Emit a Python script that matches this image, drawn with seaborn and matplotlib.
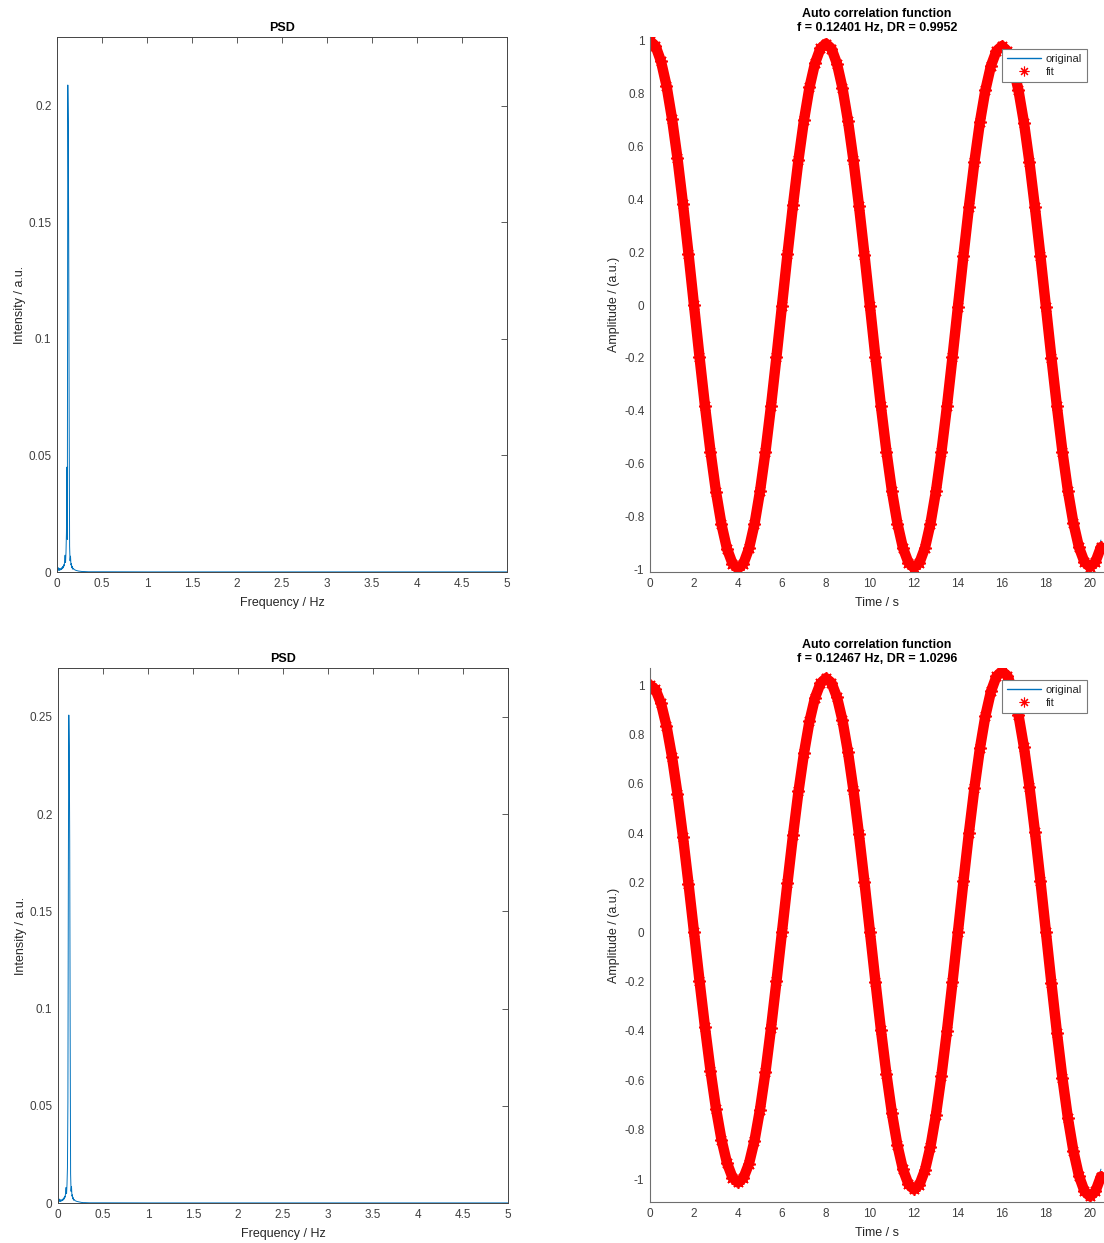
import matplotlib
matplotlib.use("Agg")
import matplotlib.pyplot as plt
from matplotlib.lines import Line2D
import seaborn as sns

# ---- PSD data (frequency in Hz, intensity in a.u.) ----
psd_freq = [0.000, 0.005, 0.010, 0.015, 0.020, 0.025, 0.030, 0.035, 0.040, 0.045,
            0.050, 0.055, 0.060, 0.065, 0.070, 0.075, 0.080, 0.085, 0.090, 0.095,
            0.100, 0.105, 0.110, 0.115, 0.120, 0.125, 0.130, 0.135, 0.140, 0.145,
            0.150, 0.155, 0.160, 0.165, 0.170, 0.175, 0.180, 0.190, 0.200, 0.210,
            0.220, 0.240, 0.260, 0.280, 0.300, 0.350, 0.400, 0.500, 1.0, 2.0,
            3.0, 4.0, 5.0]
psd_top = [0.0004, 0.0016, 0.0006, 0.0018, 0.0009, 0.0015, 0.0007, 0.0012, 0.0010, 0.0016,
           0.0011, 0.0019, 0.0014, 0.0024, 0.0018, 0.0031, 0.0026, 0.0049, 0.0072, 0.0041,
           0.0085, 0.0170, 0.0450, 0.0140, 0.2090, 0.1930, 0.1420, 0.0690, 0.0110, 0.0048,
           0.0068, 0.0030, 0.0036, 0.0018, 0.0024, 0.0012, 0.0016, 0.0011, 0.0009, 0.0007,
           0.0006, 0.0004, 0.0003, 0.0002, 0.0002, 0.0001, 0.0001, 0.0001, 0.00005, 0.00005,
           0.00005, 0.00005, 0.00005]
psd_bottom = [0.0005, 0.0018, 0.0007, 0.0020, 0.0010, 0.0017, 0.0008, 0.0014, 0.0011, 0.0018,
              0.0012, 0.0021, 0.0016, 0.0027, 0.0021, 0.0035, 0.0030, 0.0058, 0.0080, 0.0048,
              0.0095, 0.0180, 0.0520, 0.1660, 0.2510, 0.2350, 0.1860, 0.0915, 0.0150, 0.0060,
              0.0085, 0.0035, 0.0042, 0.0021, 0.0027, 0.0014, 0.0018, 0.0012, 0.0010, 0.0008,
              0.0007, 0.0005, 0.0003, 0.0002, 0.0002, 0.0001, 0.0001, 0.0001, 0.00005, 0.00005,
              0.00005, 0.00005, 0.00005]

# ---- auto correlation data (lag in s) ----
lag_s = [0.0, 0.25, 0.5, 0.75, 1.0, 1.25, 1.5, 1.75, 2.0, 2.25, 2.5, 2.75, 3.0, 3.25,
         3.5, 3.75, 4.0, 4.25, 4.5, 4.75, 5.0, 5.25, 5.5, 5.75, 6.0, 6.25, 6.5, 6.75,
         7.0, 7.25, 7.5, 7.75, 8.0, 8.25, 8.5, 8.75, 9.0, 9.25, 9.5, 9.75, 10.0, 10.25,
         10.5, 10.75, 11.0, 11.25, 11.5, 11.75, 12.0, 12.25, 12.5, 12.75, 13.0, 13.25,
         13.5, 13.75, 14.0, 14.25, 14.5, 14.75, 15.0, 15.25, 15.5, 15.75, 16.0, 16.25,
         16.5, 16.75, 17.0, 17.25, 17.5, 17.75, 18.0, 18.25, 18.5, 18.75, 19.0, 19.25,
         19.5, 19.75, 20.0, 20.25, 20.5]

fit_top = [1.000, 0.981, 0.923, 0.831, 0.706, 0.555, 0.382, 0.194, -0.001, -0.196,
           -0.383, -0.555, -0.707, -0.831, -0.923, -0.979, -0.998, -0.979, -0.922, -0.830,
           -0.706, -0.555, -0.383, -0.196, -0.002, 0.192, 0.378, 0.550, 0.700, 0.824,
           0.915, 0.972, 0.990, 0.971, 0.914, 0.822, 0.698, 0.548, 0.376, 0.190,
           -0.004, -0.198, -0.384, -0.555, -0.705, -0.828, -0.920, -0.976, -0.995, -0.976,
           -0.920, -0.828, -0.705, -0.555, -0.384, -0.198, -0.006, 0.187, 0.372, 0.543,
           0.693, 0.815, 0.906, 0.962, 0.981, 0.962, 0.905, 0.814, 0.691, 0.541,
           0.370, 0.185, -0.007, -0.200, -0.384, -0.555, -0.704, -0.826, -0.917, -0.973,
           -0.992, -0.973, -0.917]
orig_top = [1.000, 0.981, 0.923, 0.831, 0.706, 0.555, 0.382, 0.194, -0.001, -0.196,
            -0.383, -0.555, -0.707, -0.831, -0.923, -0.979, -0.998, -0.979, -0.922, -0.830,
            -0.706, -0.555, -0.383, -0.196, -0.002, 0.192, 0.378, 0.550, 0.700, 0.824,
            0.915, 0.972, 0.990, 0.971, 0.914, 0.822, 0.698, 0.548, 0.376, 0.190,
            -0.004, -0.198, -0.384, -0.555, -0.705, -0.828, -0.920, -0.976, -0.995, -0.976,
            -0.920, -0.828, -0.705, -0.555, -0.384, -0.198, -0.006, 0.187, 0.372, 0.543,
            0.693, 0.815, 0.906, 0.962, 0.981, 0.962, 0.905, 0.814, 0.691, 0.541,
            0.370, 0.185, -0.007, -0.200, -0.384, -0.555, -0.704, -0.826, -0.917, -0.973,
            -0.992, -0.970, -0.890]

fit_bottom = [1.000, 0.982, 0.926, 0.834, 0.710, 0.558, 0.385, 0.196, 0.000, -0.197,
              -0.386, -0.561, -0.715, -0.841, -0.935, -0.994, -1.014, -0.995, -0.938, -0.845,
              -0.719, -0.566, -0.390, -0.199, 0.000, 0.199, 0.391, 0.569, 0.724, 0.853,
              0.948, 1.007, 1.028, 1.009, 0.951, 0.857, 0.729, 0.574, 0.395, 0.202,
              0.000, -0.202, -0.397, -0.576, -0.734, -0.864, -0.961, -1.021, -1.042, -1.023,
              -0.964, -0.869, -0.739, -0.581, -0.401, -0.204, 0.000, 0.205, 0.402, 0.584,
              0.744, 0.876, 0.974, 1.035, 1.056, 1.037, 0.977, 0.880, 0.749, 0.589,
              0.406, 0.207, 0.000, -0.208, -0.407, -0.592, -0.754, -0.887, -0.987, -1.049,
              -1.070, -1.050, -0.990]
orig_bottom = [1.000, 0.982, 0.926, 0.834, 0.710, 0.558, 0.385, 0.196, 0.000, -0.197,
               -0.386, -0.561, -0.715, -0.841, -0.935, -0.994, -1.014, -0.995, -0.938, -0.845,
               -0.719, -0.566, -0.390, -0.199, 0.000, 0.199, 0.391, 0.569, 0.724, 0.853,
               0.948, 1.007, 1.028, 1.009, 0.951, 0.857, 0.729, 0.574, 0.395, 0.202,
               0.000, -0.202, -0.397, -0.576, -0.734, -0.864, -0.961, -1.021, -1.042, -1.023,
               -0.964, -0.869, -0.739, -0.581, -0.401, -0.204, 0.000, 0.205, 0.402, 0.584,
               0.744, 0.876, 0.974, 1.035, 1.056, 1.037, 0.977, 0.880, 0.749, 0.589,
               0.406, 0.207, 0.000, -0.208, -0.407, -0.592, -0.754, -0.887, -0.987, -1.049,
               -1.070, -1.040, -0.960]

titles_acf = ["Auto correlation function\nf = 0.12401 Hz, DR = 0.9952",
              "Auto correlation function\nf = 0.12467 Hz, DR = 1.0296"]
psd_yticks = [[0, 0.05, 0.1, 0.15, 0.2], [0, 0.05, 0.1, 0.15, 0.2, 0.25]]
psd_xticks = [0, 0.5, 1, 1.5, 2, 2.5, 3, 3.5, 4, 4.5, 5]
acf_xticks = [0, 2, 4, 6, 8, 10, 12, 14, 16, 18, 20]
acf_yticks = [-1, -0.8, -0.6, -0.4, -0.2, 0, 0.2, 0.4, 0.6, 0.8, 1]

sns.set_theme(style="white")
plt.rcParams['font.family'] = ['Liberation Sans', 'DejaVu Sans']
plt.rcParams['axes.unicode_minus'] = False

BLUE = "#0072BD"
RED = "#FF0000"
DARK = "#262626"
ASTERISK = (8, 2, 0)
W, H = 1104, 1243

fig = plt.figure(figsize=(W / 100, H / 100), dpi=100)


def px_axes(left, top, right, bottom):
    return fig.add_axes([left / W, 1 - bottom / H, (right - left) / W, (bottom - top) / H])


ax_psd = [px_axes(57, 37, 507, 572), px_axes(58, 668, 508, 1203)]
ax_acf = [px_axes(650, 37, 1104, 572), px_axes(650, 668, 1104, 1202)]
psd_ylims = [(0, 0.2296), (0, 0.2752)]
acf_ylims = [(-1.011, 1.015), (-1.093, 1.069)]
psd_data = [psd_top, psd_bottom]
fit_data = [fit_top, fit_bottom]
orig_data = [orig_top, orig_bottom]


def fmt(v):
    return f"{v:g}"


for i in range(2):
    # PSD panel
    ax = ax_psd[i]
    sns.lineplot(x=psd_freq, y=psd_data[i], ax=ax, color=BLUE, linewidth=0.7,
                 estimator=None, sort=False, legend=False)
    ax.set_xlim(0, 5)
    ax.set_ylim(*psd_ylims[i])
    ax.set_xticks(psd_xticks)
    ax.set_xticklabels([fmt(v) for v in psd_xticks])
    ax.set_yticks(psd_yticks[i])
    ax.set_yticklabels([fmt(v) for v in psd_yticks[i]])
    ax.set_title("PSD", fontsize=9, fontweight="bold", color="black", pad=4)
    ax.set_xlabel("Frequency / Hz", fontsize=9, color=DARK, labelpad=5)
    ax.set_ylabel("Intensity / a.u.", fontsize=9, color=DARK, labelpad=2)
    ax.tick_params(direction="in", length=4, width=0.6, top=True, right=True,
                   labelsize=8.5, colors="#404040", pad=4)
    for s in ax.spines.values():
        s.set_color("#444444")
        s.set_linewidth(0.7)

    # auto correlation panel
    ax = ax_acf[i]
    sns.lineplot(x=lag_s, y=orig_data[i], ax=ax, color=BLUE, linewidth=0.7,
                 estimator=None, sort=False, legend=False)
    sns.lineplot(x=lag_s, y=fit_data[i], ax=ax, color=RED, linewidth=7.5,
                 marker=ASTERISK, markersize=9, markeredgewidth=1.2,
                 markeredgecolor=RED, markerfacecolor=RED,
                 estimator=None, sort=False, legend=False)
    ax.set_xlim(0, 20.64)
    ax.set_ylim(*acf_ylims[i])
    ax.set_xticks(acf_xticks)
    ax.set_xticklabels([fmt(v) for v in acf_xticks])
    ax.set_yticks(acf_yticks)
    ax.set_yticklabels([fmt(round(v, 1)) for v in acf_yticks])
    ax.set_title(titles_acf[i], fontsize=9, fontweight="bold", color="black",
                 pad=4, linespacing=1.25)
    ax.set_xlabel("Time / s", fontsize=9, color=DARK, labelpad=5)
    ax.set_ylabel("Amplitude / (a.u.)", fontsize=9, color=DARK, labelpad=3)
    ax.tick_params(direction="in", length=4, width=0.6, labelsize=8.5,
                   colors="#404040", pad=4)
    ax.spines["top"].set_visible(False)
    ax.spines["right"].set_visible(False)
    for s in ("left", "bottom"):
        ax.spines[s].set_color("#6e6e6e")
        ax.spines[s].set_linewidth(0.8)

    handles = [Line2D([], [], color=BLUE, linewidth=1.0),
               Line2D([], [], color=RED, linestyle="none", marker=ASTERISK,
                      markersize=7, markeredgewidth=0.8)]
    leg = ax.legend(handles, ["original", "fit"], loc="upper right",
                    bbox_to_anchor=(0.9626, 0.9776), borderaxespad=0,
                    fontsize=8, frameon=True, fancybox=False, framealpha=1,
                    handlelength=3.0, handletextpad=0.45, borderpad=0.45,
                    labelspacing=0.3)
    leg.get_frame().set_edgecolor("#7a7a7a")
    leg.get_frame().set_linewidth(0.8)
    for t in leg.get_texts():
        t.set_color(DARK)

fig.savefig("out.png", dpi=100)
